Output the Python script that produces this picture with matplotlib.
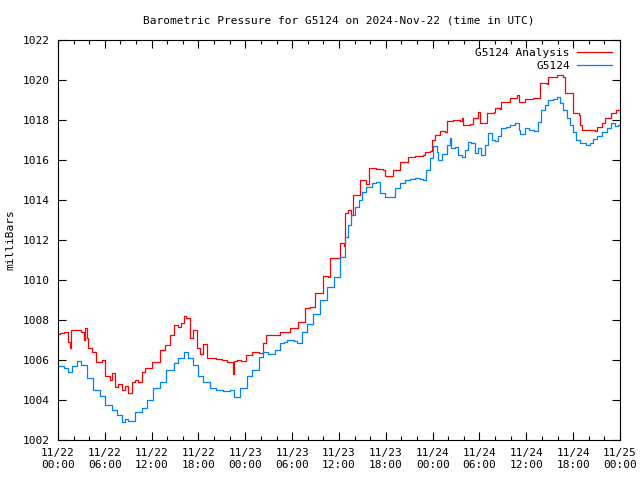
"""
Barometric pressure plot for G5124 (gnuplot style)
"""

import numpy as np
import pandas as pd
import matplotlib
matplotlib.use('Agg')
import matplotlib.pyplot as plt
import matplotlib.dates as mdates

plt.rcParams['font.family'] = ['DejaVu Sans Mono']

start = pd.Timestamp('2024-11-22 00:00')

# values (hours since start, millibars)
obs_hours = [0.0, 0.3, 0.8, 1.3, 1.8, 2.4, 3.0, 3.7, 4.5, 5.4, 6.0, 6.9, 7.5, 8.2, 8.6, 9.0, 9.9,
             10.7, 11.4, 12.2, 13.1, 13.9, 14.8, 15.4, 16.1, 16.7, 17.3, 18.0, 18.6, 19.5, 20.3,
             21.2, 22.0, 22.5, 23.3, 24.2, 24.8, 25.7, 26.3, 26.9, 27.8, 28.4, 28.9, 29.3, 30.2,
             30.6, 31.2, 31.9, 32.7, 33.6, 34.4, 35.3, 36.1, 36.8, 37.2, 37.6, 38.0, 38.5, 38.9,
             39.5, 40.2, 40.8, 41.3, 41.9, 42.5, 43.2, 43.8, 44.5, 45.1, 45.7, 46.4, 46.8, 47.2,
             47.7, 48.1, 48.5, 48.7, 49.2, 49.8, 50.2, 50.4, 50.9, 51.3, 51.7, 52.1, 52.5, 52.9,
             53.4, 53.8, 54.2, 54.7, 55.1, 55.6, 56.0, 56.4, 56.8, 57.4, 57.9, 58.5, 59.0, 59.2,
             59.8, 60.4, 61.0, 61.5, 61.9, 62.4, 62.8, 63.4, 63.9, 64.3, 64.7, 65.2, 65.6, 66.0,
             66.4, 66.9, 67.3, 67.7, 68.1, 68.5, 69.0, 69.7, 70.3, 70.9, 71.4, 71.8, 72.0]
obs_mb = [1005.7, 1005.7, 1005.6, 1005.4, 1005.7, 1005.97, 1005.75, 1005.1, 1004.5, 1004.2,
          1003.75, 1003.5, 1003.25, 1002.9, 1003.05, 1002.95, 1003.4, 1003.6, 1004.0, 1004.6,
          1004.9, 1005.5, 1005.85, 1006.1, 1006.4, 1006.1, 1005.75, 1005.2, 1004.9, 1004.6,
          1004.5, 1004.45, 1004.5, 1004.15, 1004.6, 1005.2, 1005.5, 1006.15, 1006.4, 1006.3,
          1006.5, 1006.85, 1006.9, 1007.0, 1006.95, 1006.85, 1007.4, 1007.8, 1008.3, 1009.0,
          1009.65, 1010.15, 1011.15, 1012.15, 1012.75, 1013.25, 1013.65, 1014.0, 1014.4,
          1014.65, 1014.85, 1014.9, 1014.35, 1014.15, 1014.15, 1014.6, 1014.85, 1015.0,
          1015.05, 1015.1, 1015.05, 1015.0, 1015.5, 1016.1, 1016.7, 1016.4, 1016.0, 1016.3,
          1016.75, 1017.1, 1016.6, 1016.65, 1016.25, 1016.15, 1016.5, 1016.9, 1016.85,
          1016.35, 1016.6, 1016.25, 1016.75, 1017.35, 1017.0, 1016.95, 1017.2, 1017.6,
          1017.65, 1017.75, 1017.85, 1017.5, 1017.3, 1017.6, 1017.5, 1017.45, 1017.9, 1018.5,
          1018.75, 1019.0, 1019.05, 1019.15, 1018.85, 1018.5, 1018.1, 1017.75, 1017.4, 1017.0,
          1016.85, 1016.85, 1016.75, 1016.85, 1017.05, 1017.2, 1017.4, 1017.6, 1017.85,
          1017.7, 1017.75, 1017.9]

ana_hours = [0.0, 0.3, 0.8, 1.3, 1.5, 1.7, 2.4, 3.0, 3.3, 3.5, 3.7, 3.9, 4.4, 4.9, 5.3, 5.7,
             6.0, 6.6, 6.9, 7.3, 7.7, 8.2, 8.6, 9.0, 9.5, 9.9, 10.3, 10.7, 11.2, 11.6, 12.0,
             12.6, 13.1, 13.7, 14.3, 14.8, 15.4, 15.8, 16.1, 16.4, 16.9, 17.3, 17.8, 18.2, 18.6,
             19.1, 19.6, 20.3, 21.0, 21.6, 22.2, 22.4, 22.6, 22.9, 23.5, 24.1, 24.8, 25.7, 26.3,
             26.7, 27.8, 28.4, 29.3, 29.7, 30.8, 31.6, 32.3, 32.9, 33.6, 34.0, 34.6, 34.8, 35.7,
             36.1, 36.6, 36.8, 37.2, 37.6, 37.8, 38.5, 38.7, 39.5, 39.8, 40.8, 41.7, 41.9, 42.7,
             42.9, 43.6, 43.8, 44.5, 44.9, 45.7, 46.8, 47.0, 47.7, 47.9, 48.3, 48.9, 49.6, 49.8,
             50.6, 51.5, 51.7, 51.9, 52.8, 53.2, 53.8, 54.1, 54.9, 55.8, 56.0, 56.6, 56.8, 57.7,
             57.9, 58.8, 59.0, 59.8, 60.9, 61.8, 62.6, 62.8, 63.9, 64.7, 65.0, 65.8, 66.0, 66.7,
             66.9, 67.1, 68.8, 69.0, 69.7, 70.1, 70.9, 71.5, 72.0]
ana_mb = [1007.3, 1007.35, 1007.4, 1006.9, 1006.6, 1007.5, 1007.5, 1007.4, 1007.0, 1007.6,
          1007.1, 1006.6, 1006.4, 1005.9, 1005.9, 1006.0, 1005.2, 1005.0, 1005.35, 1004.65,
          1004.8, 1004.5, 1004.7, 1004.35, 1004.9, 1005.0, 1004.9, 1005.4, 1005.6, 1005.6,
          1005.9, 1005.9, 1006.5, 1006.75, 1007.25, 1007.75, 1007.65, 1007.85, 1008.2, 1008.1,
          1007.1, 1007.5, 1006.6, 1006.3, 1006.8, 1006.1, 1006.1, 1006.05, 1006.0, 1005.9,
          1005.9, 1005.3, 1005.95, 1006.0, 1005.95, 1006.25, 1006.4, 1006.35, 1006.85, 1007.25,
          1007.25, 1007.4, 1007.4, 1007.6, 1007.9, 1008.6, 1008.65, 1009.35, 1009.35, 1010.2,
          1010.15, 1011.1, 1011.1, 1011.85, 1011.7, 1013.35, 1013.5, 1013.25, 1014.25, 1014.25,
          1015.0, 1014.8, 1015.6, 1015.55, 1015.5, 1015.2, 1015.2, 1015.5, 1015.5, 1015.9,
          1015.9, 1016.15, 1016.2, 1016.25, 1016.4, 1016.45, 1017.0, 1017.25, 1017.45, 1017.4,
          1017.95, 1018.0, 1017.95, 1018.1, 1017.75, 1017.8, 1018.1, 1018.4, 1017.85, 1018.35,
          1018.4, 1018.6, 1018.55, 1018.9, 1018.9, 1019.1, 1019.25, 1018.9, 1019.05, 1019.1,
          1019.85, 1019.8, 1020.15, 1020.25, 1020.15, 1019.35, 1019.35, 1018.35, 1018.25,
          1017.75, 1017.5, 1017.45, 1017.65, 1017.85, 1018.1, 1018.35, 1018.5, 1018.4]


def to_times(hours):
    return start + pd.to_timedelta(hours, unit='h')


fig = plt.figure(figsize=(6.4, 4.8), dpi=100)
ax = fig.add_axes([58 / 640, 40 / 480, 562 / 640, 400 / 480])

ax.plot(to_times(ana_hours), ana_mb, color='#ff0000', lw=0.9,
        drawstyle='steps-post', label='G5124 Analysis')
ax.plot(to_times(obs_hours), obs_mb, color='#0080ff', lw=0.9,
        drawstyle='steps-post', label='G5124')

ax.set_xlim(start, start + pd.Timedelta(hours=72))
ax.set_ylim(1002, 1022)
ax.set_yticks(np.arange(1002, 1023, 2))

ax.xaxis.set_major_locator(mdates.HourLocator(byhour=[0, 6, 12, 18]))
ax.xaxis.set_minor_locator(mdates.HourLocator(byhour=[2, 4, 8, 10, 14, 16, 20, 22]))
ax.xaxis.set_major_formatter(mdates.DateFormatter('%m/%d\n%H:%M'))

ax.tick_params(which='both', direction='in', top=True, right=True,
               labelsize=8, width=0.8, pad=6)
ax.tick_params(which='major', length=6)
ax.tick_params(which='minor', length=3)
for sp in ax.spines.values():
    sp.set_linewidth(0.8)

ax.set_title('Barometric Pressure for G5124 on 2024-Nov-22 (time in UTC)',
             fontsize=8, pad=12)
ax.set_ylabel('milliBars', fontsize=8, labelpad=5)

ax.legend(loc='upper right', frameon=False, fontsize=8, handlelength=3.2,
          markerfirst=False, borderaxespad=0.3, labelspacing=0.3, handletextpad=0.6)

fig.savefig('out.png', dpi=100, facecolor='white')
